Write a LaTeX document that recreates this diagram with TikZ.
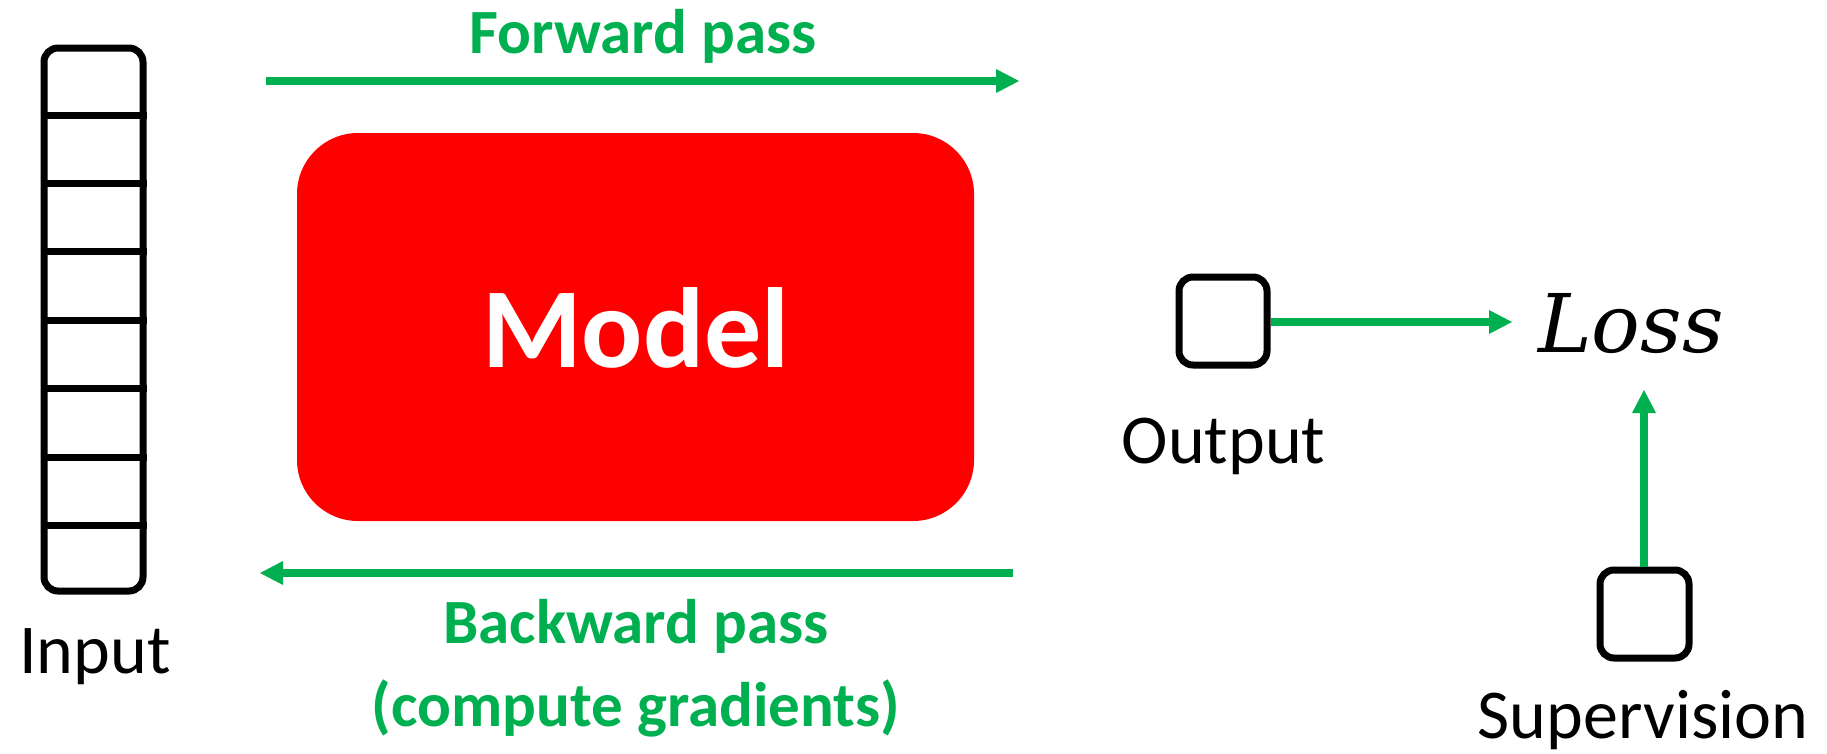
\documentclass[tikz,border=0pt]{standalone}
\usepackage{fontspec}
\setmainfont{Carlito}
\newfontfamily\lossfont{DejaVu Serif}
\usetikzlibrary{arrows.meta}
\definecolor{pgreen}{HTML}{00B050}
\begin{document}
\begin{tikzpicture}[x=1pt,y=-1pt,
  box/.style={draw=black, line width=7pt, rounded corners=14pt, inner sep=0pt},
  garrow/.style={draw=pgreen, line width=8pt, -{Triangle[length=23pt,width=24pt,line width=0pt]}},
  lbl/.style={font=\fontsize{70}{84}\selectfont, anchor=base, inner sep=0pt},
  glbl/.style={font=\fontsize{63}{77}\selectfont\bfseries, text=pgreen, anchor=base, inner sep=0pt}]
\useasboundingbox (0,0) rectangle (1827,753);

% Input column
\node[box, minimum width=99pt, minimum height=543pt] (input) at (93.5,319.5) {};
\foreach \i in {0,...,6}{
  \draw[line width=7pt] ([yshift=-70.5pt-\i*68.4pt]input.north west) -- ([yshift=-70.5pt-\i*68.4pt]input.north east);
}
\node[lbl] (inputlbl) at (95,673) {Input};

% Model
\node[fill=red, rounded corners=61pt, minimum width=677pt, minimum height=388pt, inner sep=0pt] (model) at (635.5,327) {};
\node[font=\fontsize{114}{130}\selectfont\bfseries, text=white, anchor=base, inner sep=0pt] (modeltxt) at (636,367) {Model};

% Forward pass
\coordinate (f1) at (266,81);
\coordinate (f2) at (1019,81);
\draw[garrow] (f1) -- (f2);
\node[glbl] (fwd) at (643,53) {Forward pass};

% Backward pass
\coordinate (b1) at (1013,573);
\coordinate (b2) at (260,573);
\draw[garrow] (b1) -- (b2);
\node[glbl] (bwd1) at (636,643) {Backward pass};
\node[glbl] (bwd2) at (636,726) {(compute gradients)};

% Output
\node[box, minimum width=88pt, minimum height=88pt] (out) at (1223,321) {};
\node[lbl] (outlbl) at (1223.5,463) {Output};

% Loss
\node[anchor=base, inner sep=0pt, font=\fontsize{81}{96}\selectfont\lossfont\itshape] (loss) at (1631,352) {Loss};
\coordinate (lossin) at (1512,322);
\draw[garrow] (out.east |- 0,322) -- (lossin);

% Supervision
\node[box, minimum width=89pt, minimum height=88pt] (sup) at (1644.5,614) {};
\node[lbl] (suplbl) at (1643,738) {Supervision};
\coordinate (lossbot) at (1644,390);
\draw[garrow] (sup.north -| 1644,0) -- (lossbot);
\end{tikzpicture}
\end{document}
